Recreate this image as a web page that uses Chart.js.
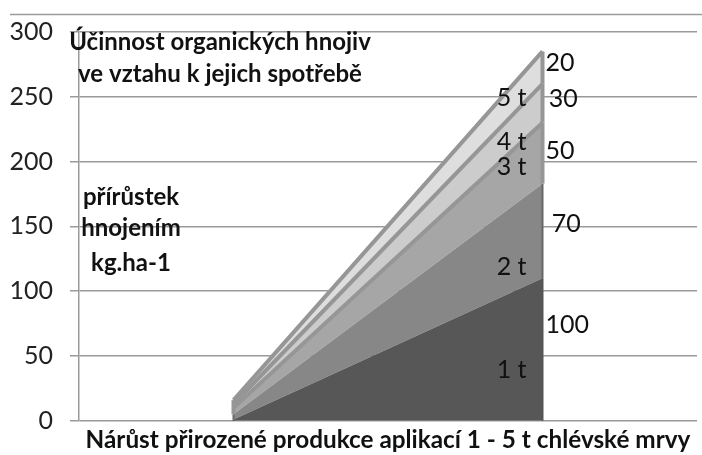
<!DOCTYPE html>
<html>
<head>
<meta charset="utf-8">
<script src="https://cdn.jsdelivr.net/npm/chart.js@4"></script>
<style>
  html, body { margin: 0; padding: 0; background: #fff; }
  #wrap { width: 702px; height: 455px; position: relative; }
</style>
</head>
<body>
<div id="wrap"><canvas id="effChart"></canvas></div>
<script>
// category positions of the two points (start / end of the application range)
const xPoints = [1, 3];
// increment per layer (kg.ha-1) at start and end
const layer1t = [1, 110];
const layer2t = [4, 73];
const layer3t = [5, 47];
const layer4t = [3, 30];
const layer5t = [3, 25];
const layerNames = ["1 t", "2 t", "3 t", "4 t", "5 t"];
const rightLabels = ["100", "70", "50", "30", "20"];
const yMax = 300;
const yStep = 50;

const layers = [layer1t, layer2t, layer3t, layer4t, layer5t];
const fills = ["#575757", "#878787", "#a6a6a6", "#cccccc", "#dedede"];
const borders = [0, 0, 4, 4, 4];
const edgeColors = ["#555", "#666", "#969696", "#969696", "#969696"];
const FONT = "Lato, 'Open Sans', sans-serif";

// where the text annotations sit, in data units
const layerLabelPos = [[2.8, 39], [2.8, 119], [2.8, 196], [2.8, 215], [2.8, 249]];
const rightLabelPos = [[3.02, 74], [3.06, 152], [3.02, 208], [3.04, 248], [3.02, 276]];

const annotations = {
    id: "annotations",
    afterDatasetsDraw(chart) {
        const ctx = chart.ctx;
        const xs = chart.scales.x, ys = chart.scales.y;
        // vertical edges of the stacked areas
        chart.data.datasets.forEach(function (ds, i) {
            const meta = chart.getDatasetMeta(i);
            const prev = i > 0 ? chart.getDatasetMeta(i - 1) : null;
            [0, meta.data.length - 1].forEach(function (k) {
                const p = meta.data[k];
                const base = prev ? prev.data[k].y : ys.getPixelForValue(0);
                ctx.save();
                ctx.strokeStyle = edgeColors[i];
                ctx.lineWidth = borders[i] || 2;
                ctx.beginPath();
                ctx.moveTo(p.x, base);
                ctx.lineTo(p.x, p.y);
                ctx.stroke();
                ctx.restore();
            });
        });
        ctx.save();
        ctx.fillStyle = "#111";
        ctx.textBaseline = "middle";
        ctx.font = "25px " + FONT;
        ctx.textAlign = "center";
        layerNames.forEach(function (t, i) {
            ctx.fillText(t, xs.getPixelForValue(layerLabelPos[i][0]), ys.getPixelForValue(layerLabelPos[i][1]));
        });
        ctx.textAlign = "left";
        rightLabels.forEach(function (t, i) {
            ctx.fillText(t, xs.getPixelForValue(rightLabelPos[i][0]), ys.getPixelForValue(rightLabelPos[i][1]));
        });
        // free text boxes
        ctx.font = "bold 24px " + FONT;
        ctx.textAlign = "center";
        ctx.fillText("Účinnost organických hnojiv", 220, 42);
        ctx.fillText("ve vztahu k jejich spotřebě", 220, 74);
        ctx.fillText("přírůstek", 131, 197);
        ctx.fillText("hnojením", 131, 228);
        ctx.fillText("kg.ha-1", 131, 263);
        // outer frame top line
        ctx.strokeStyle = "#9a9a9a";
        ctx.lineWidth = 1.5;
        ctx.beginPath();
        ctx.moveTo(10, 14.5);
        ctx.lineTo(702, 14.5);
        ctx.stroke();
        ctx.restore();
    }
};

const ctx = document.getElementById("effChart").getContext("2d");

new Chart(ctx, {
    type: "line",
    data: {
        datasets: layers.map(function (vals, i) {
            return {
                label: layerNames[i],
                data: vals.map(function (v, k) { return { x: xPoints[k], y: v }; }),
                backgroundColor: fills[i],
                borderColor: borders[i] ? "#969696" : "rgba(0,0,0,0)",
                borderWidth: borders[i],
                fill: i === 0 ? "origin" : "-1",
                pointRadius: 0,
                tension: 0
            };
        })
    },
    options: {
        responsive: true,
        maintainAspectRatio: false,
        animation: false,
        layout: { padding: { top: 17, right: 5, bottom: 0, left: 0 } },
        scales: {
            x: {
                type: "linear",
                min: 0,
                max: 4,
                ticks: { display: false },
                grid: { display: false, drawTicks: false },
                border: { display: false },
                title: {
                    display: true,
                    text: "Nárůst přirozené produkce aplikací 1 - 5 t chlévské mrvy",
                    color: "#111",
                    font: { family: FONT, size: 24.3, weight: "bold" },
                    padding: { top: 5, bottom: 0 }
                }
            },
            y: {
                stacked: true,
                min: 0,
                max: yMax,
                afterFit: function (scale) { scale.width = 79; },
                ticks: {
                    stepSize: yStep,
                    color: "#222",
                    padding: 17,
                    font: { family: FONT, size: 25 }
                },
                grid: { color: "#9a9a9a", lineWidth: 1.5, tickLength: 9 },
                border: { color: "#9a9a9a", width: 1.5 }
            }
        },
        plugins: {
            legend: { display: false },
            tooltip: { enabled: false }
        }
    },
    plugins: [annotations]
});
</script>
</body>
</html>
